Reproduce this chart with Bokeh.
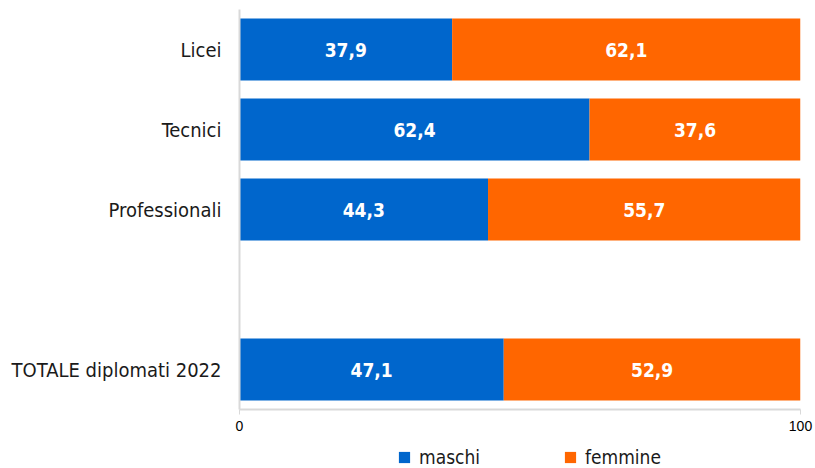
from bokeh.plotting import figure
from bokeh.layouts import column
from bokeh.models import (ColumnDataSource, FactorRange, Range1d, FixedTicker,
                          Legend, LegendItem)
from bokeh.core.properties import value
from bokeh.embed import file_html
from bokeh.resources import INLINE

# ---- data ----
categories = ["Licei", "Tecnici", "Professionali", "TOTALE diplomati 2022"]
maschi = [37.9, 62.4, 44.3, 47.1]
femmine = [62.1, 37.6, 55.7, 52.9]
series = ["maschi", "femmine"]
x_ticks = [0, 100]

# factors bottom->top, including an empty slot between groups and total
factors = ["TOTALE diplomati 2022", " ", "Professionali", "Tecnici", "Licei"]

BLUE = "#0066CC"
ORANGE = "#FF6600"
COLORS = [BLUE, ORANGE]
FONT = "DejaVu Sans Condensed, DejaVu Sans"

source = ColumnDataSource(dict(cat=categories, maschi=maschi, femmine=femmine))

p = figure(width=815, height=440,
           y_range=FactorRange(*factors, range_padding=0),
           x_range=Range1d(0, 100),
           output_backend="svg", toolbar_location=None,
           min_border_left=239, min_border_right=15,
           min_border_top=9, min_border_bottom=31)

rs = p.hbar_stack(series, y="cat", height=0.775, color=COLORS,
                  line_color=None, source=source)

# value labels
lab_x, lab_y, lab_t = [], [], []
for c, m, f in zip(categories, maschi, femmine):
    lab_x += [m / 2, m + f / 2]
    lab_y += [c, c]
    lab_t += [f"{m:.1f}".replace(".", ","), f"{f:.1f}".replace(".", ",")]
lsrc = ColumnDataSource(dict(x=lab_x, y=lab_y, t=lab_t))
p.text(x="x", y="y", text="t", source=lsrc, text_color="white",
       text_font=value(FONT), text_font_style="bold",
       text_font_size="19px", text_align="center", text_baseline="middle")

# axes
p.xgrid.visible = False
p.ygrid.visible = False
p.outline_line_color = None

ya = p.yaxis[0]
ya.axis_line_color = "#d9d9d9"
ya.axis_line_width = 2
ya.major_tick_line_color = None
ya.minor_tick_line_color = None
ya.major_tick_out = 0
ya.major_label_standoff = 18
ya.major_label_text_font = FONT
ya.major_label_text_font_size = "20px"
ya.major_label_text_color = "#1a1a1a"

xa = p.xaxis[0]
xa.ticker = FixedTicker(ticks=x_ticks)
xa.axis_line_color = "#d9d9d9"
xa.axis_line_width = 2
xa.major_tick_line_color = "#d9d9d9"
xa.major_tick_line_width = 1
xa.major_tick_in = 0
xa.major_tick_out = 5
xa.minor_tick_line_color = None
xa.major_label_standoff = 6
xa.major_label_text_font = "Liberation Sans"
xa.major_label_text_font_size = "14px"
xa.major_label_text_color = "#000000"

# ---- legend strip (separate small figure below the chart) ----
lg = figure(width=815, height=28, x_range=Range1d(0, 1), y_range=Range1d(0, 1),
            output_backend="svg", toolbar_location=None,
            x_axis_location=None, y_axis_location=None,
            min_border=0)
lg.xgrid.visible = False
lg.ygrid.visible = False
lg.outline_line_color = None
# zero-width placeholder bars, only used to carry the legend swatches
dummy = ColumnDataSource(dict(y=[0.5], right=[0]))
lrs = [lg.hbar(y="y", right="right", left=0, height=0.5, fill_color=c,
               line_color=None, source=dummy)
       for c in COLORS]
legend = Legend(items=[LegendItem(label=s, renderers=[r]) for s, r in zip(series, lrs)],
                orientation="horizontal", location=(158, 0),
                glyph_width=14, glyph_height=14, label_standoff=8, spacing=83,
                padding=0, margin=0, border_line_color=None,
                background_fill_alpha=0,
                label_text_font=FONT, label_text_font_size="19px",
                label_text_color="#1a1a1a")
lg.add_layout(legend, "center")

layout = column(p, lg, spacing=0)
open("out.html", "w").write(file_html(layout, INLINE))
